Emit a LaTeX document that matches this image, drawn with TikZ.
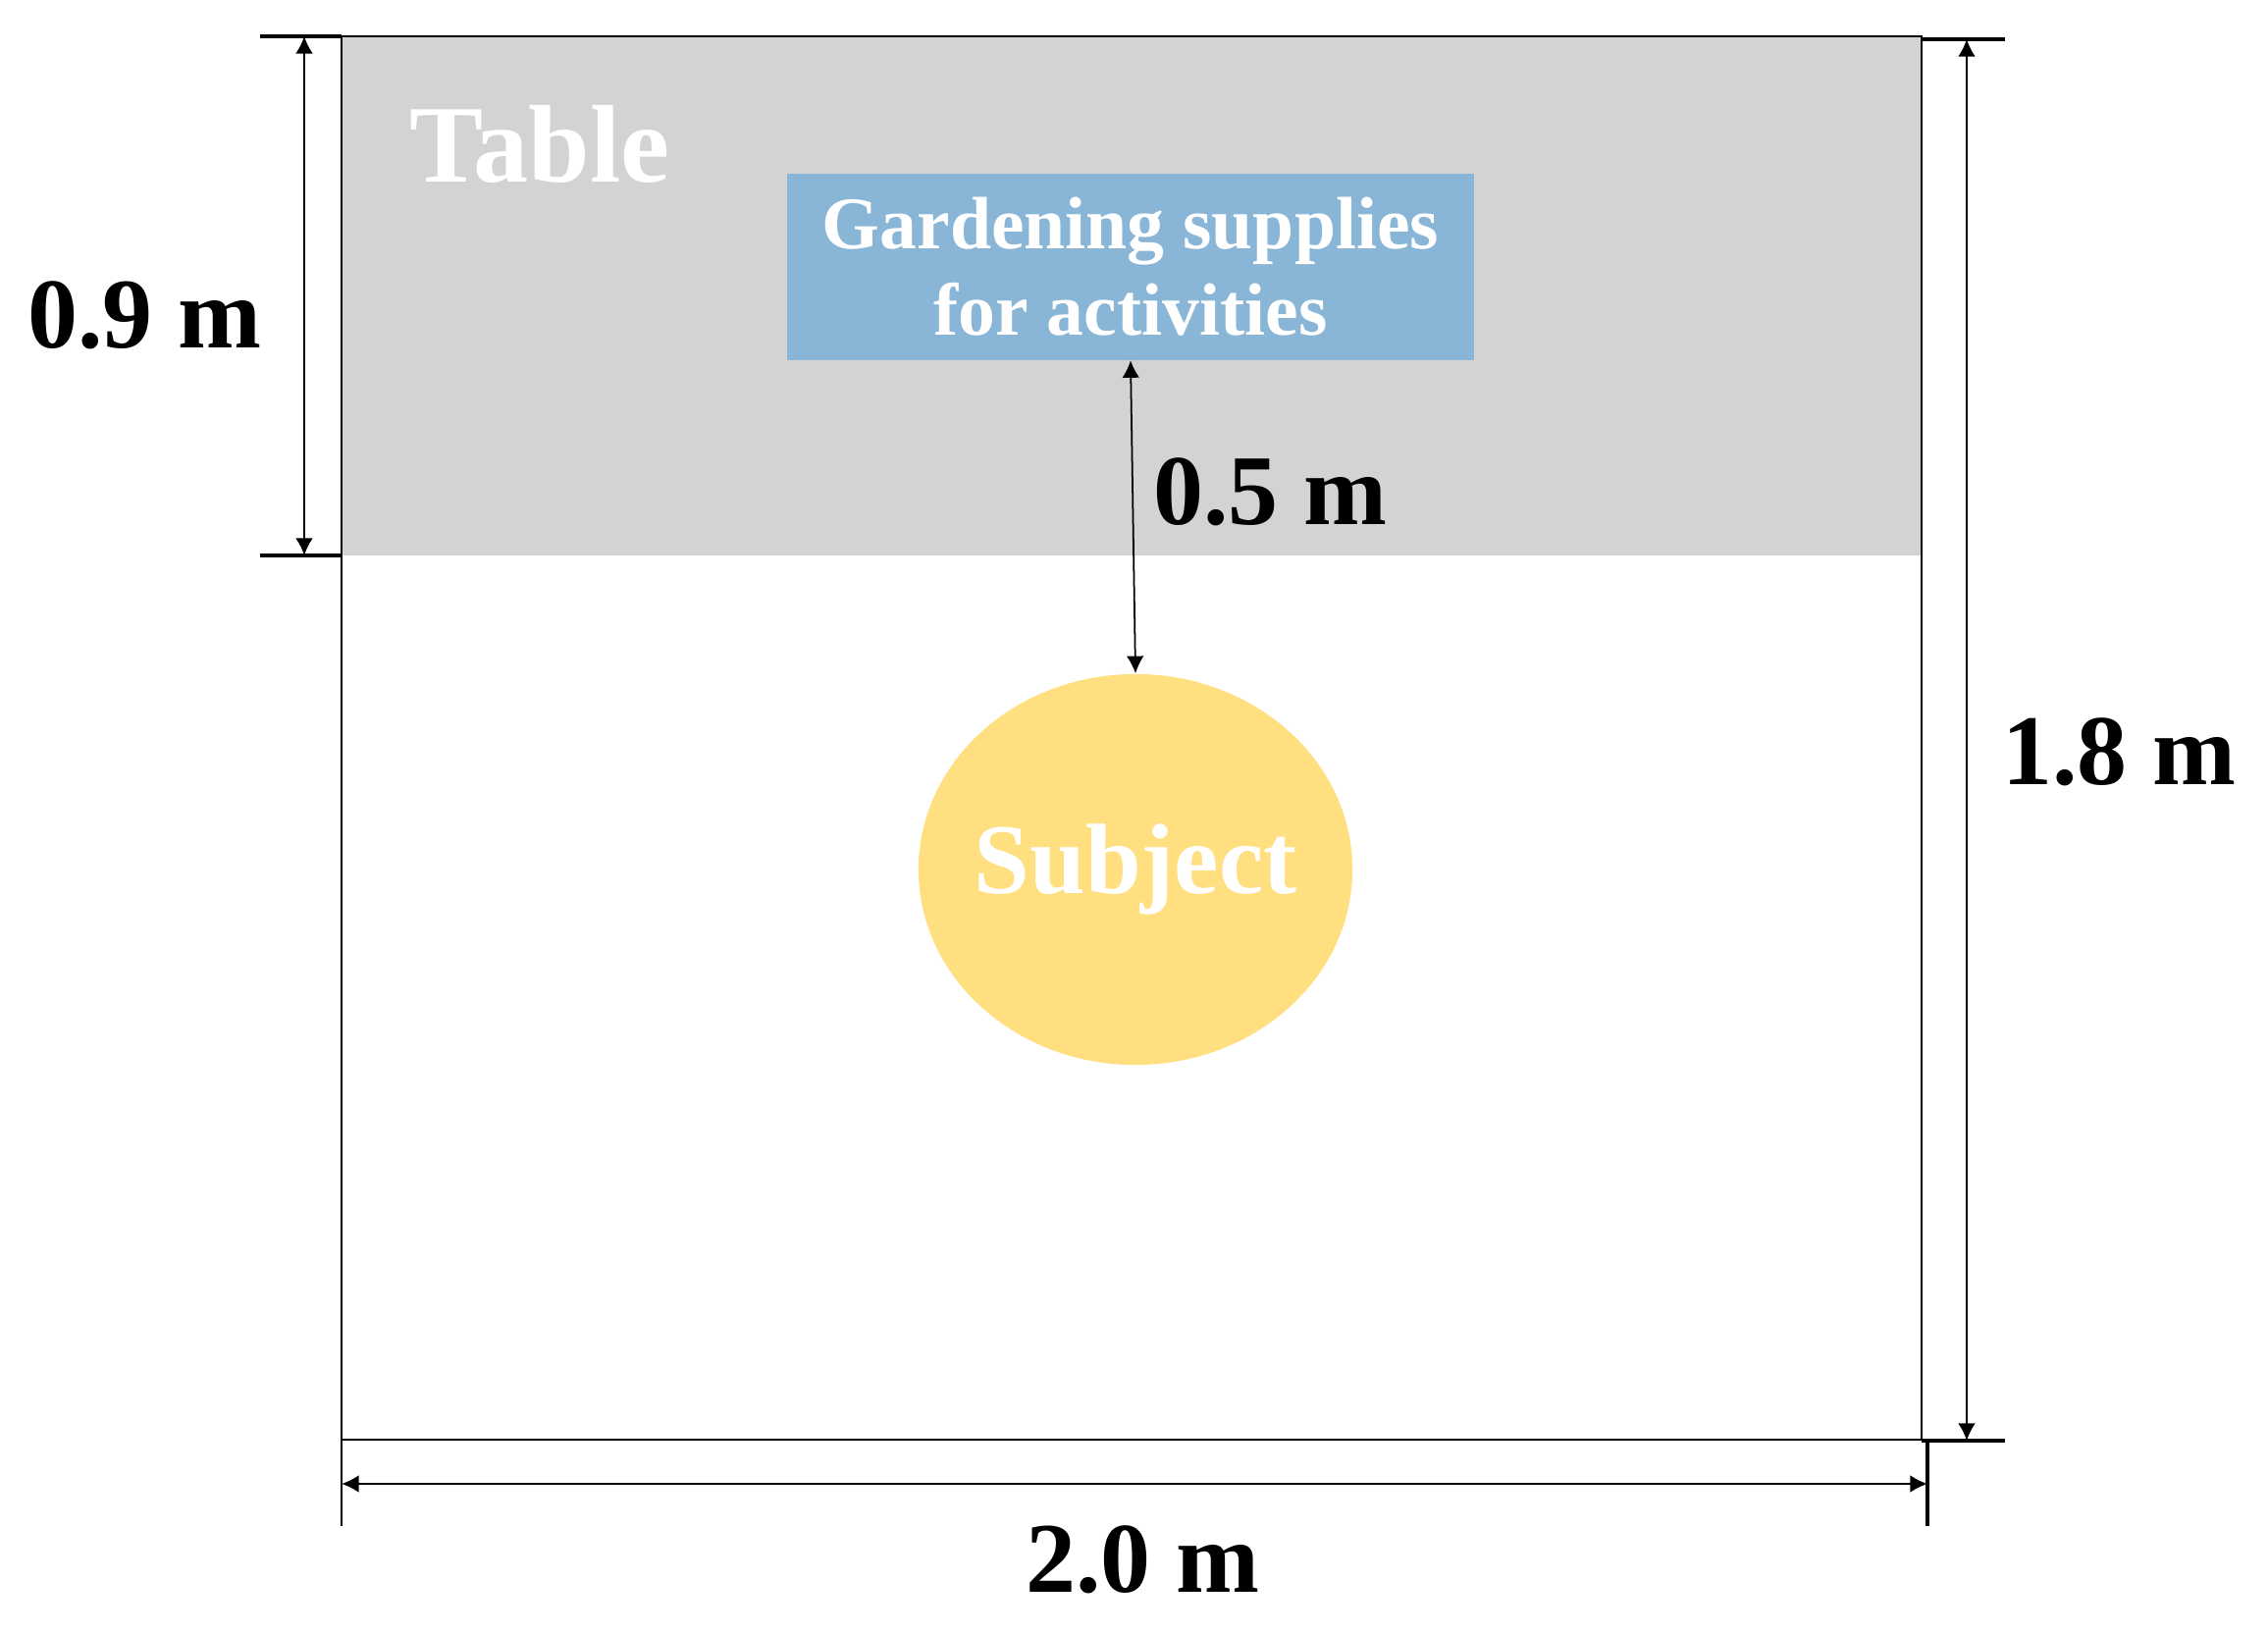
\documentclass[tikz,border=0pt]{standalone}
\usepackage{fontspec}
\setmainfont{Liberation Serif}
\usetikzlibrary{shapes.geometric,arrows.meta}
\definecolor{tablegray}{HTML}{D3D3D3}
\definecolor{supplyblue}{HTML}{89B6D6}
\definecolor{subjectyellow}{HTML}{FFDF80}
\tikzset{
  dimline/.style={{Latex[length=5pt,width=5pt]}-{Latex[length=5pt,width=5pt]}, line width=0.5pt},
  tickline/.style={line width=1.3pt},
  dimlabel/.style={font=\bfseries\fontsize{29}{32}\selectfont},
}

\begin{document}
\begin{tikzpicture}[x=0.01cm, y=-0.01cm]
  \useasboundingbox (0,0) rectangle (2311,1664);
  % room and table
  \coordinate (nw) at (348,37);
  \coordinate (se) at (1958,1467);
  \coordinate (tablese) at (1958,566);
  \fill[tablegray] (nw) rectangle (tablese);
  \draw[line width=0.8pt] (nw) rectangle (se);
  \node[text=white, font=\bfseries\fontsize{32}{36}\selectfont] (table) at (550,147) {Table};
  \node[fill=supplyblue, minimum width=7cm, minimum height=1.89cm, align=center,
        text=white, font=\bfseries\fontsize{21.5}{25}\selectfont] (supplies) at (1152,272)
        {Gardening supplies\\for activities};
  \node[ellipse, fill=subjectyellow, minimum width=4.42cm, minimum height=3.98cm, inner sep=0pt,
        text=white, font=\bfseries\fontsize{29}{33}\selectfont] (subject) at (1157,886)
        {\makebox[0pt]{Subject}};
  \draw[dimline] (supplies.south) -- (subject.north);
  \node[dimlabel] (dist) at (1294,501) {0.5 m};
  % table depth
  \coordinate (t1) at (265,37);
  \coordinate (t2) at (265,566);
  \draw[tickline] (t1) -- (nw);
  \draw[tickline] (t2) -- (348,566);
  \draw[dimline] (310,37) -- (310,566);
  \node[dimlabel] (depth) at (147,321) {0.9 m};
  % room depth
  \draw[tickline] (1958,40) -- (2043,40);
  \draw[tickline] (1958,1468) -- (2043,1468);
  \draw[dimline] (2004,40) -- (2004,1468);
  \node[dimlabel] (length) at (2159,766) {1.8 m};
  % room width
  \draw[line width=0.8pt] (348,1467) -- (348,1555);
  \draw[tickline] (1964,1468) -- (1964,1555);
  \draw[dimline] (348,1512) -- (1964,1512);
  \node[dimlabel] (width) at (1164,1589) {2.0 m};
\end{tikzpicture}
\end{document}
